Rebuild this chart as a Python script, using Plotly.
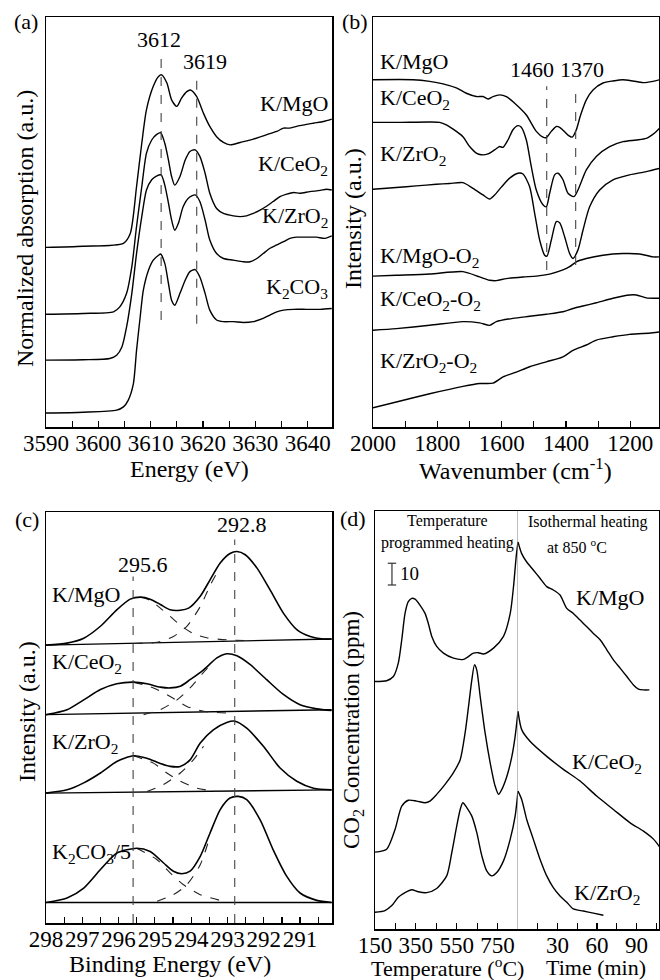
import plotly.graph_objects as go

# ---------------- Panel (a): K K-edge XANES ----------------
a_mgo_E = [3590.0, 3597.0, 3604.8, 3606.1, 3607.3, 3608.3, 3609.2, 3610.5, 3611.5, 3612.1, 3613.1, 3614.0, 3615.0, 3615.9, 3616.9, 3617.6, 3618.8, 3620.1, 3621.3, 3622.6, 3623.9, 3625.2, 3627.1, 3629.6, 3632.2, 3634.1, 3635.4, 3636.6, 3638.5, 3641.1, 3643.0, 3644.6]
a_mgo_y = [43.8, 44.1, 44.8, 47.2, 58.6, 69.2, 77.4, 83.1, 85.5, 85.9, 83.9, 79.8, 78.2, 80.2, 81.8, 82.2, 80.6, 76.5, 73.3, 70.8, 69.4, 68.8, 69.4, 70.2, 71.3, 72.1, 72.9, 72.9, 73.5, 74.1, 74.5, 75.1]
a_ceo2_E = [3590.0, 3597.1, 3602.9, 3604.1, 3605.4, 3606.4, 3607.3, 3608.3, 3609.2, 3610.2, 3611.1, 3611.9, 3612.7, 3613.4, 3614.0, 3614.6, 3615.6, 3616.6, 3617.5, 3618.5, 3619.4, 3620.4, 3621.3, 3622.6, 3623.9, 3625.8, 3627.1, 3628.3, 3629.6, 3630.9, 3632.2, 3633.4, 3634.7, 3636.0, 3637.3, 3638.5, 3640.4, 3642.4, 3643.6, 3644.6]
a_ceo2_y = [27.5, 27.7, 28.1, 29.3, 32.6, 39.1, 48.9, 58.6, 66.8, 70.0, 71.3, 71.8, 69.2, 65.1, 61.1, 59.0, 61.1, 65.1, 67.2, 67.6, 66.0, 61.9, 57.0, 53.3, 52.1, 51.5, 51.3, 51.5, 52.1, 52.9, 53.9, 55.0, 56.2, 56.8, 57.2, 57.0, 57.4, 57.7, 58.0, 57.8]
a_zro2_E = [3590.0, 3597.1, 3602.2, 3603.5, 3604.5, 3605.4, 3606.4, 3607.3, 3608.3, 3609.2, 3610.2, 3611.1, 3612.0, 3612.7, 3613.4, 3614.0, 3614.6, 3615.3, 3616.2, 3617.2, 3618.5, 3619.4, 3620.4, 3621.3, 3622.6, 3623.9, 3625.8, 3627.7, 3629.0, 3630.3, 3631.5, 3632.8, 3634.1, 3635.4, 3636.6, 3637.9, 3639.8, 3641.7, 3643.3, 3644.6]
a_zro2_y = [16.3, 16.4, 16.7, 17.5, 19.5, 24.4, 32.6, 42.3, 51.3, 57.8, 60.3, 61.2, 61.5, 59.0, 54.6, 50.5, 48.0, 49.7, 53.7, 55.8, 56.6, 55.0, 50.5, 45.6, 42.3, 41.1, 40.7, 40.3, 40.3, 41.1, 42.3, 43.6, 44.4, 45.2, 46.0, 46.3, 46.3, 46.3, 46.0, 46.6]
a_k2co3_E = [3590.0, 3597.1, 3603.5, 3604.8, 3605.7, 3606.7, 3607.3, 3608.0, 3608.6, 3609.6, 3610.5, 3611.5, 3611.9, 3612.7, 3613.4, 3614.0, 3614.6, 3615.6, 3616.6, 3617.5, 3618.5, 3619.4, 3620.4, 3621.3, 3622.6, 3623.9, 3625.8, 3627.7, 3629.6, 3631.5, 3632.8, 3634.1, 3635.4, 3637.3, 3639.8, 3642.4, 3644.6]
a_k2co3_y = [3.4, 3.6, 4.1, 4.9, 6.5, 10.6, 18.7, 26.9, 33.4, 38.3, 40.7, 41.9, 42.2, 39.9, 35.0, 30.9, 29.7, 32.6, 35.8, 37.9, 38.4, 36.6, 32.6, 28.5, 26.1, 25.7, 25.7, 25.5, 25.7, 26.5, 27.3, 28.1, 28.5, 28.7, 28.7, 28.7, 28.9]
a_peaks = [3612, 3618.8]
a_peak_top = [90.0, 85.3]
a_peak_bottom = [26.1, 25.2]
a_names = ["K/MgO", "K/CeO<sub>2</sub>", "K/ZrO<sub>2</sub>", "K<sub>2</sub>CO<sub>3</sub>"]
a_label_y = [79.0, 63.9, 51.3, 33.8]

# ---------------- Panel (b): DRIFTS ----------------
b_mgo_W = [2000, 1875.7, 1823.9, 1782.4, 1741.0, 1709.9, 1678.8, 1658.1, 1642.6, 1627.0, 1606.3, 1585.6, 1554.5, 1523.4, 1492.4, 1471.6, 1461.3, 1445.7, 1430.2, 1419.8, 1409.5, 1393.9, 1380.5, 1368.0, 1354.6, 1336.9, 1316.2, 1285.2, 1254.1, 1223.0, 1191.9, 1160.8, 1129.8, 1109.0]
b_mgo_y = [84.7, 84.7, 84.3, 83.7, 82.7, 81.4, 80.6, 80.6, 80.0, 80.6, 81.0, 80.6, 78.6, 76.1, 72.1, 70.7, 70.6, 72.1, 73.3, 73.1, 72.4, 71.2, 70.7, 72.5, 76.1, 79.8, 82.2, 83.9, 84.4, 84.7, 84.4, 84.0, 84.3, 84.7]
b_ceo2_W = [2000, 1927.5, 1823.9, 1792.8, 1772.1, 1741.0, 1720.3, 1699.6, 1678.8, 1663.3, 1642.6, 1621.9, 1606.3, 1596.0, 1580.4, 1564.9, 1549.3, 1539.0, 1523.4, 1507.9, 1492.4, 1471.6, 1461.3, 1450.9, 1435.4, 1425.0, 1409.5, 1393.9, 1375.3, 1362.9, 1336.9, 1305.9, 1264.4, 1223.0, 1181.6, 1150.5, 1124.6, 1109.0]
b_ceo2_y = [74.3, 74.3, 74.4, 74.3, 73.7, 72.1, 70.8, 68.4, 66.8, 66.4, 66.6, 67.6, 68.4, 68.2, 70.0, 72.5, 73.5, 73.1, 70.0, 63.5, 57.8, 54.2, 53.7, 57.0, 61.5, 61.9, 60.3, 57.0, 56.2, 57.8, 62.7, 66.0, 68.4, 69.6, 70.0, 70.4, 71.7, 72.9]
b_zro2_W = [2000, 1927.5, 1865.3, 1803.2, 1761.7, 1720.3, 1689.2, 1658.1, 1637.4, 1621.9, 1601.1, 1575.2, 1549.3, 1533.8, 1513.1, 1497.5, 1482.0, 1466.5, 1459.2, 1445.7, 1430.2, 1419.8, 1404.3, 1388.8, 1378.4, 1362.9, 1347.3, 1326.6, 1295.5, 1254.1, 1202.3, 1150.5, 1109.0]
b_zro2_y = [58.0, 58.4, 58.8, 59.2, 59.4, 59.6, 58.2, 56.6, 55.6, 56.6, 58.5, 60.7, 61.9, 61.7, 58.6, 52.1, 45.6, 41.9, 41.7, 45.6, 50.1, 49.8, 46.4, 42.3, 41.1, 43.2, 48.0, 53.7, 57.8, 60.3, 61.5, 62.3, 63.1]
b_mgo_o2_W = [2000, 1927.5, 1823.9, 1720.3, 1668.5, 1637.4, 1616.7, 1585.6, 1533.8, 1492.4, 1450.9, 1409.5, 1388.8, 1368.0, 1336.9, 1285.2, 1223.0, 1171.2, 1129.8, 1109.0]
b_mgo_o2_y = [36.8, 37.0, 37.3, 37.9, 36.6, 35.8, 35.7, 36.2, 36.6, 36.8, 37.3, 38.3, 39.1, 40.3, 41.1, 41.9, 42.3, 42.2, 41.5, 41.5]
b_ceo2_o2_W = [2000, 1927.5, 1823.9, 1720.3, 1668.5, 1637.4, 1616.7, 1564.9, 1513.1, 1461.3, 1409.5, 1378.4, 1347.3, 1305.9, 1254.1, 1202.3, 1181.6, 1150.5, 1124.6, 1109.0]
b_ceo2_o2_y = [23.6, 24.0, 24.8, 25.7, 25.4, 24.8, 25.7, 26.5, 27.0, 27.5, 28.1, 28.9, 29.5, 30.3, 31.4, 32.2, 32.2, 31.5, 31.4, 31.4]
b_zro2_o2_W = [2000, 1927.5, 1823.9, 1720.3, 1668.5, 1627.0, 1595.9, 1554.5, 1513.1, 1461.3, 1409.5, 1378.4, 1336.9, 1305.9, 1254.1, 1202.3, 1160.8, 1129.8, 1109.0]
b_zro2_o2_y = [4.7, 6.1, 8.1, 9.9, 10.6, 10.7, 12.2, 13.4, 14.7, 15.9, 17.1, 18.7, 20.0, 21.2, 22.0, 22.6, 22.8, 23.0, 23.2]
b_peaks = [1460, 1370]
b_peak_top = [83.1, 83.1]
b_peak_bottom = [38.3, 39.5]
b_names = ["K/MgO", "K/CeO<sub>2</sub>", "K/ZrO<sub>2</sub>", "K/MgO-O<sub>2</sub>", "K/CeO<sub>2</sub>-O<sub>2</sub>", "K/ZrO<sub>2</sub>-O<sub>2</sub>"]
b_label_y = [89.2, 80.0, 66.4, 41.5, 30.9, 15.9]

# ---------------- Panel (c): XPS ----------------
c_mgo_BE = [298.0, 297.42, 296.96, 296.50, 296.05, 295.68, 295.40, 295.13, 294.85, 294.58, 294.30, 294.07, 293.75, 293.48, 293.20, 292.93, 292.74, 292.51, 292.19, 291.83, 291.46, 291.09, 290.72, 290.36, 290.13]
c_mgo_fit = [67.6, 68.1, 69.3, 72.2, 76.2, 78.8, 79.3, 78.8, 77.5, 76.2, 76.1, 76.6, 79.5, 83.5, 87.6, 89.9, 90.4, 89.6, 86.4, 81.1, 75.4, 71.4, 69.7, 69.1, 69.1]
c_mgo_p1_BE = [295.40, 295.13, 294.85, 294.58, 294.26, 293.94, 293.57, 293.02, 292.28]
c_mgo_p1 = [79.3, 78.5, 76.6, 74.6, 72.2, 70.4, 69.4, 68.9, 68.7]
c_mgo_p2_BE = [295.59, 294.94, 294.49, 294.12, 293.75, 293.48, 293.29]
c_mgo_p2 = [68.0, 68.3, 69.7, 72.2, 77.0, 82.1, 85.2]
c_mgo_base = [67.6, 69.1]

c_ceo2_BE = [298.0, 297.42, 296.96, 296.50, 296.05, 295.59, 295.22, 294.85, 294.58, 294.30, 294.03, 293.66, 293.29, 293.02, 292.74, 292.38, 291.92, 291.46, 291.00, 290.54, 290.13]
c_ceo2_fit = [50.7, 51.9, 54.3, 56.8, 58.2, 58.6, 58.2, 57.4, 57.2, 57.6, 59.2, 61.6, 64.5, 65.5, 65.0, 62.9, 59.2, 55.6, 53.1, 52.1, 51.7]
c_ceo2_p1_BE = [295.59, 295.04, 294.58, 294.12, 293.66, 293.02]
c_ceo2_p1 = [58.6, 57.2, 55.1, 52.7, 51.5, 51.1]
c_ceo2_p2_BE = [295.31, 294.85, 294.39, 294.03, 293.66, 293.39]
c_ceo2_p2 = [50.7, 51.9, 54.3, 57.2, 61.0, 63.4]
c_ceo2_base = [50.7, 51.9]

c_zro2_BE = [298.0, 297.42, 296.96, 296.50, 296.05, 295.59, 295.22, 294.85, 294.58, 294.30, 294.03, 293.75, 293.39, 293.02, 292.79, 292.47, 292.01, 291.55, 291.09, 290.63, 290.13]
c_zro2_fit = [31.6, 32.4, 34.1, 36.5, 39.3, 40.7, 40.1, 38.8, 38.1, 38.1, 39.7, 43.8, 47.0, 48.8, 49.1, 47.4, 43.0, 37.7, 34.5, 32.8, 32.4]
c_zro2_p1_BE = [295.59, 295.04, 294.67, 294.30, 293.84, 293.29]
c_zro2_p1 = [40.7, 38.9, 36.5, 34.5, 32.8, 32.0]
c_zro2_p2_BE = [295.22, 294.76, 294.30, 293.94, 293.66]
c_zro2_p2 = [32.0, 33.7, 36.5, 39.7, 43.0]
c_zro2_base = [31.6, 32.4]

c_k2co3_BE = [298.0, 297.42, 296.96, 296.50, 296.05, 295.50, 295.13, 294.76, 294.49, 294.26, 294.03, 293.75, 293.48, 293.20, 292.93, 292.70, 292.47, 292.10, 291.74, 291.37, 291.00, 290.54, 290.13]
c_k2co3_fit = [5.0, 6.1, 8.5, 13.0, 17.0, 18.2, 17.4, 14.6, 12.6, 12.0, 12.6, 16.2, 21.9, 27.6, 30.4, 30.8, 30.0, 25.1, 17.8, 11.4, 7.3, 5.5, 5.0]
c_k2co3_p1_BE = [295.50, 294.94, 294.58, 294.21, 293.75, 293.20]
c_k2co3_p1 = [18.2, 15.4, 12.2, 9.3, 6.9, 5.5]
c_k2co3_p2_BE = [294.94, 294.49, 294.12, 293.75, 293.48]
c_k2co3_p2 = [5.3, 6.9, 9.3, 14.2, 21.1]
c_k2co3_base = [5.0, 5.0]
c_base_BE = [298.0, 290.13]
c_peaks = [295.6, 292.8]
c_peak_top = [84.3, 93.3]
c_names = ["K/MgO", "K/CeO<sub>2</sub>", "K/ZrO<sub>2</sub>", "K<sub>2</sub>CO<sub>3</sub>/5"]
c_label_y = [79.9, 63.3, 43.8, 17.0]

# ---------------- Panel (d): CO2 release ----------------
d_mgo_T = [150, 207, 240, 264, 281, 297, 313, 330, 346, 370, 395, 411, 428, 452, 485, 534, 583, 632, 656, 681, 730, 779, 812, 828, 841, 850]
d_mgo_Ty = [59.2, 59.4, 60.4, 63.6, 69.2, 75.5, 78.3, 79.1, 78.9, 77.5, 75.5, 73.1, 70.0, 67.6, 66.0, 64.8, 64.5, 66.0, 66.1, 65.8, 67.2, 70.0, 75.5, 81.9, 89.0, 92.6]
d_mgo_t = [0.0, 2.8, 6.6, 11.6, 16.7, 21.8, 26.8, 31.9, 37.0, 42.0, 47.1, 52.2, 57.2, 62.3, 67.4, 72.4, 77.5, 82.6, 87.6, 91.4, 95.2, 99.7]
d_mgo_ty = [92.6, 89.8, 87.8, 85.9, 83.9, 81.9, 81.1, 79.9, 76.7, 75.5, 73.9, 72.3, 70.7, 69.2, 66.8, 64.4, 62.4, 60.4, 58.4, 57.4, 57.2, 57.2]
d_ceo2_T = [150, 207, 248, 281, 313, 354, 395, 419, 452, 493, 534, 567, 591, 608, 624, 637, 648, 665, 689, 714, 738, 755, 771, 796, 820, 836, 850]
d_ceo2_Ty = [18.4, 19.1, 23.8, 29.4, 30.8, 30.6, 30.2, 30.6, 32.2, 34.6, 37.4, 40.5, 46.9, 53.3, 59.6, 63.2, 62.0, 55.6, 46.9, 39.7, 34.2, 32.2, 33.4, 36.6, 41.3, 46.1, 52.1]
d_ceo2_t = [0.0, 2.8, 9.1, 21.8, 34.4, 47.1, 59.7, 72.4, 85.1, 95.2, 102.8, 107.8]
d_ceo2_ty = [52.1, 47.7, 44.9, 41.3, 38.2, 35.4, 31.8, 28.6, 25.4, 23.4, 21.5, 19.5]
d_zro2_T = [150, 199, 232, 264, 297, 330, 362, 403, 452, 501, 526, 550, 567, 580, 600, 624, 648, 673, 697, 722, 746, 779, 812, 836, 850]
d_zro2_Ty = [4.0, 4.4, 5.6, 7.6, 8.7, 9.4, 8.9, 8.7, 9.7, 12.7, 18.3, 24.6, 28.6, 30.2, 29.0, 27.0, 23.1, 17.5, 13.9, 12.7, 13.5, 16.3, 21.5, 27.0, 33.0]
d_zro2_t = [0.0, 2.8, 6.6, 11.6, 16.7, 21.8, 26.8, 31.9, 37.0, 42.0, 49.6, 57.2, 64.8]
d_zro2_ty = [33.0, 31.0, 26.2, 21.5, 16.7, 12.7, 9.9, 7.9, 6.4, 4.8, 4.3, 3.8, 3.3]
d_switch_T = 850
d_scale_T = [233, 233]
d_scale_y = [82.3, 87.5]
d_names = ["K/MgO", "K/CeO<sub>2</sub>", "K/ZrO<sub>2</sub>"]
d_label_t = [69.9, 67.6, 67.6]
d_label_y = [79.2, 39.8, 8.3]

# ---------------- figure ----------------
W, H = 660, 980
FONT = "Liberation Serif"
LW = 1.4


def px(x):
    return x / W


def py(y):
    return 1 - y / H


fig = go.Figure()


def line(x, y, xa, ya, dash=None, width=LW, color="black", smooth=True):
    fig.add_trace(go.Scatter(
        x=x, y=y, xaxis=xa, yaxis=ya, mode="lines",
        line=dict(color=color, width=width, dash=dash,
                  shape="spline" if smooth else "linear", smoothing=0.7),
        showlegend=False, hoverinfo="skip"))


# (a)
for E, yv in [(a_mgo_E, a_mgo_y), (a_ceo2_E, a_ceo2_y), (a_zro2_E, a_zro2_y), (a_k2co3_E, a_k2co3_y)]:
    line(E, yv, "x", "y")
for p, t, b in zip(a_peaks, a_peak_top, a_peak_bottom):
    line([p, p], [b, t], "x", "y", dash="dash", width=1.1, color="#444", smooth=False)

# (b)
for Wn, yv in [(b_mgo_W, b_mgo_y), (b_ceo2_W, b_ceo2_y), (b_zro2_W, b_zro2_y),
               (b_mgo_o2_W, b_mgo_o2_y), (b_ceo2_o2_W, b_ceo2_o2_y), (b_zro2_o2_W, b_zro2_o2_y)]:
    line(Wn, yv, "x2", "y2")
for p, t, b in zip(b_peaks, b_peak_top, b_peak_bottom):
    line([p, p], [b, t], "x2", "y2", dash="dash", width=1.1, color="#444", smooth=False)

# (c)
c_sets = [
    (c_mgo_BE, c_mgo_fit, c_mgo_p1_BE, c_mgo_p1, c_mgo_p2_BE, c_mgo_p2, c_mgo_base),
    (c_ceo2_BE, c_ceo2_fit, c_ceo2_p1_BE, c_ceo2_p1, c_ceo2_p2_BE, c_ceo2_p2, c_ceo2_base),
    (c_zro2_BE, c_zro2_fit, c_zro2_p1_BE, c_zro2_p1, c_zro2_p2_BE, c_zro2_p2, c_zro2_base),
    (c_k2co3_BE, c_k2co3_fit, c_k2co3_p1_BE, c_k2co3_p1, c_k2co3_p2_BE, c_k2co3_p2, c_k2co3_base),
]
for be, fit, b1, p1, b2, p2, base in c_sets:
    line(c_base_BE, base, "x3", "y3", width=1.4, smooth=False)
    line(b1, p1, "x3", "y3", dash="dash", width=1.1, color="#222")
    line(b2, p2, "x3", "y3", dash="dash", width=1.1, color="#222")
    line(be, fit, "x3", "y3", width=1.6)
for p, t in zip(c_peaks, c_peak_top):
    line([p, p], [0, t], "x3", "y3", dash="dash", width=1.1, color="#444", smooth=False)

# (d)
for T, Ty, t, ty in [(d_mgo_T, d_mgo_Ty, d_mgo_t, d_mgo_ty),
                     (d_ceo2_T, d_ceo2_Ty, d_ceo2_t, d_ceo2_ty),
                     (d_zro2_T, d_zro2_Ty, d_zro2_t, d_zro2_ty)]:
    line(T, Ty, "x4", "y4")
    line(t, ty, "x5", "y5")
fig.add_trace(go.Scatter(x=d_scale_T, y=d_scale_y, xaxis="x4", yaxis="y4", mode="lines+markers",
                         line=dict(color="#333", width=1.2),
                         marker=dict(symbol="line-ew", size=6, line=dict(color="#333", width=1.2)),
                         showlegend=False, hoverinfo="skip"))
fig.add_shape(type="line", xref="x4", yref="y4", x0=d_switch_T, x1=d_switch_T, y0=0, y1=100,
              line=dict(color="#888", width=1.1))

# axes
tickfont = dict(family=FONT, size=23, color="black")
axis_common = dict(showline=True, linecolor="black", linewidth=1.5, mirror=True,
                   ticks="inside", ticklen=6, tickcolor="black", tickwidth=1.2,
                   showgrid=False, zeroline=False, tickfont=tickfont,
                   tickangle=0, automargin=False, ticklabelstandoff=-5)
yaxis_common = dict(showline=True, linecolor="black", linewidth=1.5, mirror=True,
                    showticklabels=False, ticks="", showgrid=False, zeroline=False,
                    range=[0, 100], automargin=False)
minor = lambda d: dict(dtick=d, ticks="inside", ticklen=6, tickcolor="black", tickwidth=1.2)

top_dom = [py(427), py(17)]
bot_dom_c = [py(923), py(512)]
bot_dom_d = [py(929), py(511)]

fig.update_layout(
    template="none",
    width=W, height=H, margin=dict(l=0, r=0, t=0, b=0, pad=0),
    paper_bgcolor="white", plot_bgcolor="white", showlegend=False,
    xaxis=dict(axis_common, domain=[px(46), px(332)], range=[3590, 3644.65], anchor="y",
               tick0=3590, dtick=10, minor=minor(5)),
    yaxis=dict(yaxis_common, domain=top_dom, anchor="x"),
    xaxis2=dict(axis_common, domain=[px(373), px(659)], range=[2000, 1111], anchor="y2",
                tick0=2000, dtick=200, minor=minor(100)),
    yaxis2=dict(yaxis_common, domain=top_dom, anchor="x2"),
    xaxis3=dict(axis_common, domain=[px(46), px(332)], range=[298, 290.12], anchor="y3",
                tick0=298, dtick=1, minor=minor(0.5)),
    yaxis3=dict(yaxis_common, domain=bot_dom_c, anchor="x3"),
    xaxis4=dict(axis_common, domain=[px(375), px(518)], range=[150, 850], anchor="y4",
                tickvals=[150, 350, 550, 750], minor=dict(minor(100), tick0=150)),
    yaxis4=dict(yaxis_common, domain=bot_dom_d, anchor="x4", mirror=False),
    xaxis5=dict(axis_common, domain=[px(518), px(659)], range=[0, 107], anchor="y5",
                tickvals=[30, 60, 90], minor=dict(minor(15), tick0=0)),
    yaxis5=dict(yaxis_common, domain=bot_dom_d, anchor="x5", mirror=False, side="right"),
)

ann = []


def text(x, y, s, size=22, xref="paper", yref="paper", xanchor="center", yanchor="middle", angle=0):
    ann.append(dict(x=x, y=y, xref=xref, yref=yref, text=s, showarrow=False,
                    xanchor=xanchor, yanchor=yanchor, textangle=angle,
                    font=dict(family=FONT, size=size, color="black")))


# panel letters
text(px(26), py(21), "(a)")
text(px(355), py(21), "(b)")
text(px(27), py(519), "(c)")
text(px(353), py(518), "(d)")

# axis titles
text(px(189), py(469), "Energy (eV)", size=24)
text(px(515), py(469), "Wavenumber (cm<sup>-1</sup>)", size=24)
text(px(170), py(964), "Binding Energy (eV)", size=24)
text(px(447), py(967), "Temperature (<sup>o</sup>C)", size=22)
text(px(596), py(967), "Time (min)", size=22)
text(px(25), py(229), "Normalized absorption (a.u.)", size=24, angle=-90)
text(px(353), py(218), "Intensity (a.u.)", size=24, angle=-90)
text(px(27), py(712), "Intensity (a.u.)", size=24, angle=-90)
text(px(353), py(730), "CO<sub>2</sub> Concentration (ppm)", size=23, angle=-90)

# panel (a) labels
text(3611.6, 94.6, "3612", xref="x", yref="y")
text(3620.4, 89.2, "3619", xref="x", yref="y")
for nm, yy in zip(a_names, a_label_y):
    text(3644.2, yy, nm, xref="x", yref="y", xanchor="right")

# panel (b) labels
text(1505, 87.1, "1460", xref="x2", yref="y2")
text(1350, 87.1, "1370", xref="x2", yref="y2")
for nm, yy in zip(b_names, b_label_y):
    text(1985, yy, nm, xref="x2", yref="y2", xanchor="left")

# panel (c) labels
text(295.33, 87.2, "295.6", xref="x3", yref="y3")
text(292.6, 96.9, "292.8", xref="x3", yref="y3")
for nm, yy in zip(c_names, c_label_y):
    text(297.88, yy, nm, xref="x3", yref="y3", xanchor="left")

# panel (d) labels
text(503, 97.6, "Temperature", size=16, xref="x4", yref="y4")
text(503, 92.3, "programmed heating", size=16, xref="x4", yref="y4")
text(53.2, 97.3, "Isothermal heating", size=16, xref="x5", yref="y5")
text(44.8, 91.6, "at 850 <sup>o</sup>C", size=16, xref="x5", yref="y5")
text(262, 85.1, "10", size=19, xref="x4", yref="y4", xanchor="left")
for nm, tt, yy in zip(d_names, d_label_t, d_label_y):
    text(tt, yy, nm, xref="x5", yref="y5")

fig.update_layout(annotations=ann)
fig.write_html("out.html", config={"displayModeBar": False, "staticPlot": True},
               post_script="document.body.style.margin='0';document.body.style.overflow='hidden';")
